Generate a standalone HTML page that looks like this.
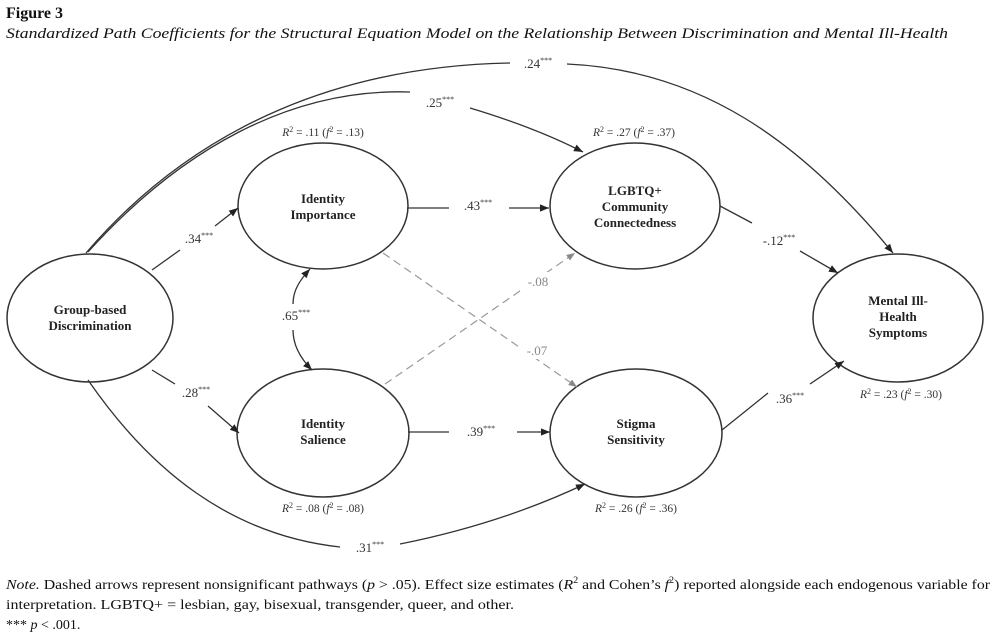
<!DOCTYPE html>
<html><head><meta charset="utf-8"><style>
html,body{margin:0;padding:0;background:#fff;}
svg{display:block;font-family:"Liberation Serif",serif;}
.n{font-weight:bold;font-size:13px;fill:#222;text-anchor:middle;}
.c{font-size:13px;fill:#333;text-anchor:middle;}
.r{font-size:11.5px;fill:#333;text-anchor:middle;}
.g{font-size:13px;fill:#888;text-anchor:middle;}
</style></head><body>
<svg width="1000" height="640" viewBox="0 0 1000 640">
<defs>
<marker id="a" viewBox="0 0 10 10" refX="10" refY="5" markerWidth="7" markerHeight="7" orient="auto"><path d="M0,1 L10,5 L0,9 z" fill="#222"/></marker>
<marker id="ag" viewBox="0 0 10 10" refX="10" refY="5" markerWidth="7" markerHeight="7" orient="auto"><path d="M0,1 L10,5 L0,9 z" fill="#888"/></marker>
</defs>
<text x="6" y="18" font-weight="bold" font-size="16" fill="#111">Figure 3</text>
<text x="6" y="38" font-style="italic" font-size="15" fill="#111" textLength="942" lengthAdjust="spacingAndGlyphs">Standardized Path Coefficients for the Structural Equation Model on the Relationship Between Discrimination and Mental Ill-Health</text>

<g fill="none" stroke="#333" stroke-width="1.5">
<ellipse cx="90" cy="318" rx="83" ry="64"/>
<ellipse cx="323" cy="206" rx="85" ry="63"/>
<ellipse cx="635" cy="206" rx="85" ry="63"/>
<ellipse cx="898" cy="318" rx="85" ry="64"/>
<ellipse cx="323" cy="433" rx="86" ry="64"/>
<ellipse cx="636" cy="433" rx="86" ry="64"/>
</g>

<g fill="none" stroke="#333" stroke-width="1.3">
<path d="M86,253 C200,120 350,66 510,63"/>
<path d="M567,64 C700,70 800,140 893,253" marker-end="url(#a)"/>
<path d="M88,252 C180,150 290,88 410,92"/>
<path d="M470,108 C510,120 550,135 583,152" marker-end="url(#a)"/>
<path d="M152,270 L180,250"/><path d="M215,226 L238,208" marker-end="url(#a)"/>
<path d="M152,370 L175,384"/><path d="M208,406 L239,433" marker-end="url(#a)"/>
<path d="M407,208 L449,208"/><path d="M509,208 L549,208" marker-end="url(#a)"/>
<path d="M408,432 L449,432"/><path d="M517,432 L550,432" marker-end="url(#a)"/>
<path d="M293,304 C293,290 300,280 310,269" marker-end="url(#a)"/>
<path d="M293,330 C293,345 300,358 312,370" marker-end="url(#a)"/>
<path d="M720,206 L752,223"/><path d="M800,251 L838,273" marker-end="url(#a)"/>
<path d="M722,430 L768,393"/><path d="M810,384 L844,361" marker-end="url(#a)"/>
<path d="M88,380 C150,470 230,535 340,547"/>
<path d="M400,544 C470,530 530,510 585,484" marker-end="url(#a)"/>
</g>
<g fill="none" stroke="#999" stroke-width="1.2" stroke-dasharray="8,5">
<path d="M383,253 L577,387" marker-end="url(#ag)"/>
<path d="M385,384 L575,253" marker-end="url(#ag)"/>
</g>
<rect x="519" y="272" width="38" height="18" fill="#fff"/>
<rect x="518" y="341" width="38" height="18" fill="#fff"/>

<g class="n">
<text x="90" y="314">Group-based</text><text x="90" y="330">Discrimination</text>
<text x="323" y="203">Identity</text><text x="323" y="219">Importance</text>
<text x="635" y="195">LGBTQ+</text><text x="635" y="211">Community</text><text x="635" y="227">Connectedness</text>
<text x="898" y="305">Mental Ill-</text><text x="898" y="321">Health</text><text x="898" y="337">Symptoms</text>
<text x="323" y="428">Identity</text><text x="323" y="444">Salience</text>
<text x="636" y="428">Stigma</text><text x="636" y="444">Sensitivity</text>
</g>

<g class="c">
<text x="538" y="68">.24<tspan font-size="8" dy="-5">***</tspan></text>
<text x="440" y="107">.25<tspan font-size="8" dy="-5">***</tspan></text>
<text x="199" y="243">.34<tspan font-size="8" dy="-5">***</tspan></text>
<text x="296" y="320">.65<tspan font-size="8" dy="-5">***</tspan></text>
<text x="478" y="210">.43<tspan font-size="8" dy="-5">***</tspan></text>
<text x="779" y="245">-.12<tspan font-size="8" dy="-5">***</tspan></text>
<text x="196" y="397">.28<tspan font-size="8" dy="-5">***</tspan></text>
<text x="481" y="436">.39<tspan font-size="8" dy="-5">***</tspan></text>
<text x="790" y="403">.36<tspan font-size="8" dy="-5">***</tspan></text>
<text x="370" y="552">.31<tspan font-size="8" dy="-5">***</tspan></text>
</g>
<g class="g">
<text x="538" y="286">-.08</text>
<text x="537" y="355">-.07</text>
</g>
<g class="r">
<text x="323" y="136"><tspan font-style="italic">R</tspan><tspan font-size="8" dy="-4">2</tspan><tspan dy="4"> = .11 (</tspan><tspan font-style="italic">f</tspan><tspan font-size="8" dy="-4">2</tspan><tspan dy="4"> = .13)</tspan></text>
<text x="634" y="136"><tspan font-style="italic">R</tspan><tspan font-size="8" dy="-4">2</tspan><tspan dy="4"> = .27 (</tspan><tspan font-style="italic">f</tspan><tspan font-size="8" dy="-4">2</tspan><tspan dy="4"> = .37)</tspan></text>
<text x="901" y="398"><tspan font-style="italic">R</tspan><tspan font-size="8" dy="-4">2</tspan><tspan dy="4"> = .23 (</tspan><tspan font-style="italic">f</tspan><tspan font-size="8" dy="-4">2</tspan><tspan dy="4"> = .30)</tspan></text>
<text x="323" y="512"><tspan font-style="italic">R</tspan><tspan font-size="8" dy="-4">2</tspan><tspan dy="4"> = .08 (</tspan><tspan font-style="italic">f</tspan><tspan font-size="8" dy="-4">2</tspan><tspan dy="4"> = .08)</tspan></text>
<text x="636" y="512"><tspan font-style="italic">R</tspan><tspan font-size="8" dy="-4">2</tspan><tspan dy="4"> = .26 (</tspan><tspan font-style="italic">f</tspan><tspan font-size="8" dy="-4">2</tspan><tspan dy="4"> = .36)</tspan></text>
</g>

<g font-size="14" fill="#111">
<text x="6" y="589" textLength="984" lengthAdjust="spacingAndGlyphs"><tspan font-style="italic">Note.</tspan>    Dashed arrows represent nonsignificant pathways (<tspan font-style="italic">p</tspan> &gt; .05). Effect size estimates (<tspan font-style="italic">R</tspan><tspan font-size="9" dy="-6">2</tspan><tspan dy="6"> and Cohen’s </tspan><tspan font-style="italic">f</tspan><tspan font-size="9" dy="-6">2</tspan><tspan dy="6">) reported alongside each endogenous variable for</tspan></text>
<text x="6" y="609" textLength="508" lengthAdjust="spacingAndGlyphs">interpretation. LGBTQ+ = lesbian, gay, bisexual, transgender, queer, and other.</text>
<text x="6" y="629">*** <tspan font-style="italic">p</tspan> &lt; .001.</text>
</g>
</svg>
</body></html>
